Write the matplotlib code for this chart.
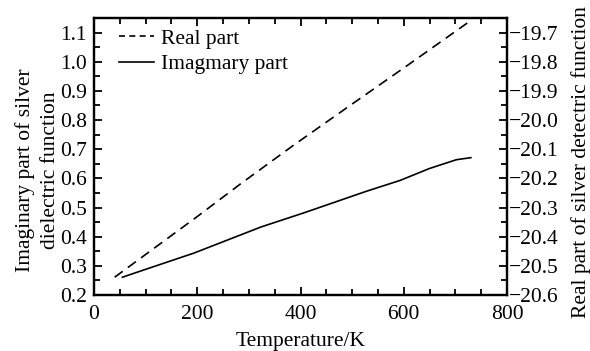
import matplotlib
matplotlib.use("Agg")
import matplotlib.pyplot as plt
from matplotlib.ticker import MultipleLocator, FuncFormatter

plt.rcParams['font.family'] = ['Liberation Serif', 'DejaVu Serif']

# Imaginary part (left axis)
t_imag = [55, 100, 194, 323, 407, 528, 593, 650, 702, 730]
imag = [0.261, 0.288, 0.344, 0.433, 0.482, 0.556, 0.593, 0.634, 0.664, 0.671]

# Real part (right axis)
t_real = [40, 100, 200, 283, 386, 496, 606, 728]
real = [-20.539, -20.461, -20.331, -20.220, -20.087, -19.950, -19.814, -19.661]

fs = 15.5
fig = plt.figure(figsize=(5.9, 3.51), dpi=100)
ax = fig.add_axes([94/590, 1-295/351, (507-94)/590, (295-18)/351])
ax2 = ax.twinx()

l2, = ax2.plot(t_real, real, color='black', lw=1.2, linestyle=(0, (6, 3.8)), label='Real part')
l1, = ax.plot(t_imag, imag, color='black', lw=1.2, label='Imagmary part')

ax.set_xlim(0, 800)
ax.set_ylim(0.2, 1.15)
ax2.set_ylim(-20.6, -19.65)

ax.xaxis.set_major_locator(MultipleLocator(200))
ax.xaxis.set_minor_locator(MultipleLocator(50))
ax.yaxis.set_major_locator(MultipleLocator(0.1))
ax.yaxis.set_minor_locator(MultipleLocator(0.05))
ax2.yaxis.set_major_locator(MultipleLocator(0.1))
ax2.yaxis.set_minor_locator(MultipleLocator(0.05))
ax.yaxis.set_major_formatter(FuncFormatter(lambda v, p: f"{v:.1f}"))
ax2.yaxis.set_major_formatter(FuncFormatter(lambda v, p: f"{v:.1f}".replace('-', '\u2212')))

ax.tick_params(axis='both', which='both', direction='in', labelsize=fs, width=1.3)
ax.tick_params(axis='x', which='both', top=True)
ax.tick_params(which='major', length=6)
ax.tick_params(which='minor', length=4)
ax.tick_params(axis='y', which='both', right=False, pad=5)
ax.tick_params(axis='x', pad=7)
ax2.tick_params(axis='y', which='both', direction='in', labelsize=fs, width=1.3, pad=1)
ax2.tick_params(which='major', length=6)
ax2.tick_params(which='minor', length=4)

for a in (ax, ax2):
    for s in a.spines.values():
        s.set_linewidth(1.6)

ax.set_xlabel('Temperature/K', fontsize=fs, labelpad=6)
ax.set_ylabel('Imaginary part of silver\ndielectric function', fontsize=fs, linespacing=1.45, labelpad=0)
ax2.set_ylabel('Real part of silver detectric function', fontsize=fs, labelpad=9)
ax.yaxis.label.set_y(0.45)
ax2.yaxis.label.set_y(0.48)

leg = ax.legend(handles=[l2, l1], loc='upper left', frameon=False, fontsize=fs,
                handlelength=1.6, handletextpad=0.35, borderaxespad=0.0,
                labelspacing=0.25, borderpad=0.5,
                bbox_to_anchor=(0.035, 1.0))
leg.get_lines()[0].set_dashes((3.6, 2.6))

fig.savefig('out.png', dpi=100)
